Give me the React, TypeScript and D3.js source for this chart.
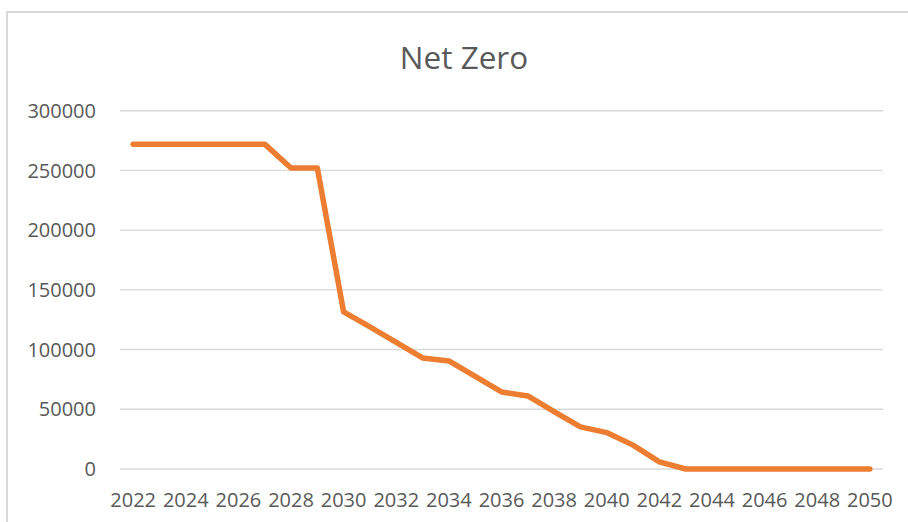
import { line, scaleLinear, scalePoint } from 'd3'

const years = [
  2022, 2023, 2024, 2025, 2026, 2027, 2028, 2029, 2030, 2031, 2032, 2033, 2034, 2035, 2036,
  2037, 2038, 2039, 2040, 2041, 2042, 2043, 2044, 2045, 2046, 2047, 2048, 2049, 2050,
]

const netZeroValues = [
  272000, 272000, 272000, 272000, 272000, 272000, 252000, 252000, 131500, 119000, 106000,
  93000, 90500, 77500, 64500, 61200, 48000, 35300, 30500, 20000, 6000, 0, 0, 0, 0, 0, 0, 0, 0,
]

const yTickValues = [0, 50000, 100000, 150000, 200000, 250000, 300000]

const xTickLabels = [
  2022, 2024, 2026, 2028, 2030, 2032, 2034, 2036, 2038, 2040, 2042, 2044, 2046, 2048, 2050,
]

const chartWidth = 908
const chartHeight = 522

const plot = {
  left: 120,
  right: 883,
  top: 110.7,
  bottom: 469,
}

const textColor = '#595959'
const gridColor = '#D9D9D9'
const lineColor = '#ED7D31'
const fontFamily = '"Open Sans", sans-serif'

function NetZeroChart() {
  const xScale = scalePoint<number>()
    .domain(years)
    .range([plot.left, plot.right])
    .padding(0.5)

  const yScale = scaleLinear()
    .domain([0, 300000])
    .range([plot.bottom, plot.top])

  const points = years.map((year, i) => ({ year, value: netZeroValues[i] }))

  const pathData =
    line<{ year: number; value: number }>()
      .x((d) => xScale(d.year) ?? 0)
      .y((d) => yScale(d.value))(points) ?? ''

  return (
    <svg width={chartWidth} height={chartHeight} style={{ display: 'block' }}>
      <rect x={0} y={0} width={chartWidth} height={chartHeight} fill="#ffffff" />
      <rect
        x={7}
        y={12}
        width={chartWidth + 20}
        height={chartHeight + 20}
        fill="none"
        stroke={gridColor}
        strokeWidth={2}
      />

      <text
        x={464}
        y={69}
        textAnchor="middle"
        fontFamily={fontFamily}
        fontSize={31.5}
        fill={textColor}
      >
        Net Zero
      </text>

      {yTickValues.map((tick) => (
        <line
          key={`grid-${tick}`}
          x1={plot.left}
          x2={plot.right}
          y1={yScale(tick)}
          y2={yScale(tick)}
          stroke={gridColor}
          strokeWidth={1.4}
        />
      ))}

      {yTickValues.map((tick) => (
        <text
          key={`ylabel-${tick}`}
          x={96}
          y={yScale(tick)}
          dy="0.36em"
          textAnchor="end"
          fontFamily={fontFamily}
          fontSize={20}
          fill={textColor}
        >
          {tick}
        </text>
      ))}

      {xTickLabels.map((year) => (
        <text
          key={`xlabel-${year}`}
          x={xScale(year) ?? 0}
          y={506.5}
          textAnchor="middle"
          fontFamily={fontFamily}
          fontSize={20}
          fill={textColor}
        >
          {year}
        </text>
      ))}

      <path
        d={pathData}
        fill="none"
        stroke={lineColor}
        strokeWidth={5.5}
        strokeLinejoin="round"
        strokeLinecap="round"
      />
    </svg>
  )
}

export default function App() {
  return (
    <>
      <style>{'body { margin: 0; }'}</style>
      <NetZeroChart />
    </>
  )
}
